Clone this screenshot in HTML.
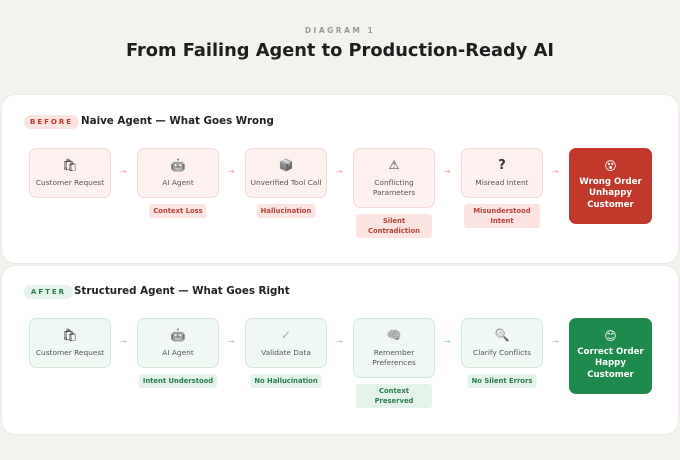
<!DOCTYPE html>
<html><head><meta charset="utf-8"><style>
*{margin:0;padding:0;box-sizing:border-box}
body{width:680px;height:460px;background:#f4f2ed;font-family:"DejaVu Sans","Liberation Sans","Noto Sans CJK SC",sans-serif;position:relative;overflow:hidden;color:#222}
.a{position:absolute}
.panel{position:absolute;left:1px;width:678px;background:#fff;border-radius:14px;border:1px solid #ece9e3}
.box{position:absolute;width:82px;border-radius:7px;display:flex;flex-direction:column;align-items:center;justify-content:center;text-align:center;font-size:7.4px;line-height:10px;color:#555}
.r .box{background:#fdf1f0;border:1px solid #f3d8d5}
.g .box{background:#eff8f3;border:1px solid #cfe8da}
.ic{font-size:12px;line-height:13px;margin-bottom:6px;color:#333;filter:grayscale(1)}
.tag{position:absolute;font-size:6.8px;font-weight:bold;text-align:center;line-height:10px;border-radius:3px;padding:2px 4px;transform:translateX(-50%)}
.r .tag{background:#fbe3e1;color:#b4433a}
.g .tag{background:#e3f3ea;color:#2a7d4e}
.arr{position:absolute;font-size:8px;line-height:10px}
.r .arr{color:#e5a49c}.g .arr{color:#9fcfb3}
.fin{position:absolute;width:83px;border-radius:7px;color:#fff;font-weight:bold;font-size:8.6px;line-height:11.5px;text-align:center;display:flex;flex-direction:column;align-items:center;justify-content:center}
.badge{position:absolute;font-size:7px;font-weight:bold;letter-spacing:2px;height:14px;line-height:14px;border-radius:7px;text-align:center}
.h{position:absolute;font-size:10.3px;font-weight:bold;color:#222}
</style></head><body>
<div class="a" style="left:0;width:680px;top:26px;text-align:center;font-size:7.5px;letter-spacing:2.5px;color:#999;font-weight:bold">DIAGRAM 1</div>
<div class="a" style="left:0;width:680px;top:40px;text-align:center;font-size:17.8px;font-weight:bold;color:#1e1e1e">From Failing Agent to Production-Ready AI</div>

<div class="panel" style="top:94px;height:170px"></div>
<div class="panel" style="top:265px;height:170px"></div>

<div class="r">
<div class="badge" style="left:24px;top:115px;width:55px;background:#fbe3e1;color:#c0392b">BEFORE</div>
<div class="h" style="left:81px;top:115px">Naive Agent — What Goes Wrong</div>
<div class="box" style="left:29px;top:148px;height:50px"><div class="ic">🛍</div>Customer Request</div>
<div class="box" style="left:137px;top:148px;height:50px"><div class="ic">🤖</div>AI Agent</div>
<div class="box" style="left:245px;top:148px;height:50px"><div class="ic">📦</div>Unverified Tool Call</div>
<div class="box" style="left:353px;top:148px;height:60px"><div class="ic">⚠</div>Conflicting<br>Parameters</div>
<div class="box" style="left:461px;top:148px;height:50px"><div class="ic" style="font-weight:bold;font-size:13px">?</div>Misread Intent</div>
<div class="fin" style="left:569px;top:148px;height:76px;background:#c0392b"><div style="font-size:12px;margin-bottom:4px">😵</div>Wrong Order<br>Unhappy<br>Customer</div>
<div class="arr" style="left:120px;top:167px">→</div><div class="arr" style="left:228px;top:167px">→</div><div class="arr" style="left:336px;top:167px">→</div><div class="arr" style="left:444px;top:167px">→</div><div class="arr" style="left:552px;top:167px">→</div>
<div class="tag" style="left:178px;top:204px;white-space:nowrap">Context Loss</div>
<div class="tag" style="left:286px;top:204px;white-space:nowrap">Hallucination</div>
<div class="tag" style="left:394px;top:214px;width:76px">Silent<br>Contradiction</div>
<div class="tag" style="left:502px;top:204px;width:76px">Misunderstood<br>Intent</div>
</div>

<div class="g">
<div class="badge" style="left:24px;top:285px;width:49px;background:#e3f3ea;color:#2a7d4e">AFTER</div>
<div class="h" style="left:74px;top:285px">Structured Agent — What Goes Right</div>
<div class="box" style="left:29px;top:318px;height:50px"><div class="ic">🛍</div>Customer Request</div>
<div class="box" style="left:137px;top:318px;height:50px"><div class="ic">🤖</div>AI Agent</div>
<div class="box" style="left:245px;top:318px;height:50px"><div class="ic" style="color:#aaa">✓</div>Validate Data</div>
<div class="box" style="left:353px;top:318px;height:60px"><div class="ic">🧠</div>Remember<br>Preferences</div>
<div class="box" style="left:461px;top:318px;height:50px"><div class="ic">🔍</div>Clarify Conflicts</div>
<div class="fin" style="left:569px;top:318px;height:76px;background:#1e8a4c"><div style="font-size:12px;margin-bottom:4px">😊</div>Correct Order<br>Happy<br>Customer</div>
<div class="arr" style="left:120px;top:337px">→</div><div class="arr" style="left:228px;top:337px">→</div><div class="arr" style="left:336px;top:337px">→</div><div class="arr" style="left:444px;top:337px">→</div><div class="arr" style="left:552px;top:337px">→</div>
<div class="tag" style="left:178px;top:374px;white-space:nowrap">Intent Understood</div>
<div class="tag" style="left:286px;top:374px;white-space:nowrap">No Hallucination</div>
<div class="tag" style="left:394px;top:384px;width:76px">Context<br>Preserved</div>
<div class="tag" style="left:502px;top:374px;white-space:nowrap">No Silent Errors</div>
</div>
</body></html>
